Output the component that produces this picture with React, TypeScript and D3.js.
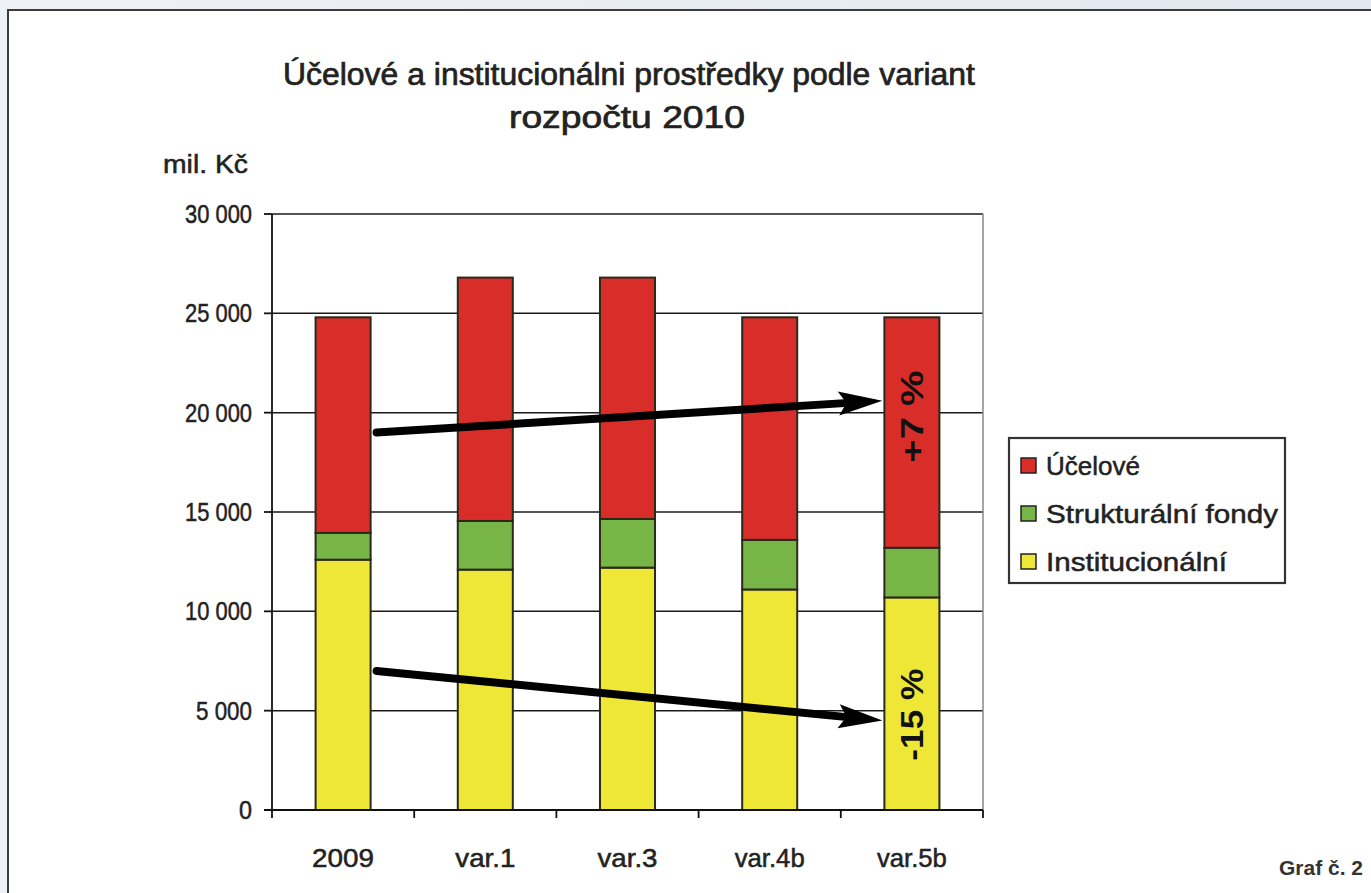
import React from "react";
import * as d3 from "d3";

const categories = ["2009", "var.1", "var.3", "var.4b", "var.5b"];
const institucionalni = [12600, 12100, 12200, 11100, 10700];
const strukturalni = [1350, 2450, 2450, 2500, 2500];
const ucelove = [10850, 12250, 12150, 11200, 11600];
const seriesNames = ["Institucionální", "Strukturální fondy", "Účelové"];
const seriesColors = ["#efe735", "#77b547", "#d92d29"];
const yTicks = [0, 5000, 10000, 15000, 20000, 25000, 30000];
const yTickLabels = ["0", "5 000", "10 000", "15 000", "20 000", "25 000", "30 000"];
const titleLines = ["Účelové a institucionálni prostředky podle variant", "rozpočtu 2010"];
const arrowUp = { from: [0, 19000], to: [4, 20600], label: "+7 %", labelAt: 19800 };
const arrowDown = { from: [0, 7000], to: [4, 4500], label: "-15 %", labelAt: 4800 };

const W = 1371;
const H = 893;
const FONT = "'Liberation Sans', Arial, sans-serif";

export default function App() {
  const x = d3
    .scaleBand<string>()
    .domain(categories)
    .range([272, 983])
    .paddingInner(0.613)
    .paddingOuter(0.3065);
  const y = d3.scaleLinear().domain([0, 30000]).range([810, 214]);

  const rows = categories.map((c, i) => ({
    cat: c,
    Institucionální: institucionalni[i],
    "Strukturální fondy": strukturalni[i],
    Účelové: ucelove[i],
  }));
  const stacked = d3.stack<any>().keys(seriesNames)(rows);

  const step = x.step();
  const bw = x.bandwidth();
  const legendOrder = [2, 1, 0];

  const arrow = (a: typeof arrowUp, key: string) => {
    const x0 = (x(categories[a.from[0]]) as number) + bw + 6;
    const x1 = (x(categories[a.to[0]]) as number) - 2;
    const y0 = y(a.from[1]);
    const y1 = y(a.to[1]);
    const ang = Math.atan2(y1 - y0, x1 - x0);
    const headLen = 44;
    const headW = 12;
    const bx = x1 - headLen * Math.cos(ang);
    const by = y1 - headLen * Math.sin(ang);
    const px = -Math.sin(ang) * headW;
    const py = Math.cos(ang) * headW;
    return (
      <g key={key}>
        <line x1={x0} y1={y0} x2={bx + 6 * Math.cos(ang)} y2={by + 6 * Math.sin(ang)} stroke="#000" strokeWidth={8} strokeLinecap="round" />
        <path d={`M${x1},${y1} L${bx + px},${by + py} L${bx + 8 * Math.cos(ang)},${by + 8 * Math.sin(ang)} L${bx - px},${by - py} Z`} fill="#000" />
      </g>
    );
  };

  const lastX = (x(categories[4]) as number) + bw / 2;
  const txt = { fill: "#222", stroke: "#222", strokeWidth: 0.5 };

  return (
    <svg
      width={W}
      height={H}
      style={{ position: "absolute", left: 0, top: 0, display: "block" }}
      fontFamily={FONT}
    >
      <defs>
        <linearGradient id="bg" x1="0" y1="0" x2="1" y2="0">
          <stop offset="0" stopColor="#eef1f6" />
          <stop offset="1" stopColor="#e3e8f0" />
        </linearGradient>
      </defs>
      <rect x={0} y={0} width={W} height={H} fill="url(#bg)" />
      <rect x={8} y={10} width={1400} height={1000} fill="#fff" stroke="#3c3c3c" strokeWidth={2} />

      {/* title */}
      <text x={629} y={85} textAnchor="middle" fontSize={31} {...txt} strokeWidth={0.7} textLength={692} lengthAdjust="spacingAndGlyphs">
        {titleLines[0]}
      </text>
      <text x={627} y={128} textAnchor="middle" fontSize={31} {...txt} strokeWidth={0.7} textLength={236} lengthAdjust="spacingAndGlyphs">
        {titleLines[1]}
      </text>

      <text x={163} y={173} fontSize={25} {...txt} textLength={85} lengthAdjust="spacingAndGlyphs">
        mil. Kč
      </text>

      {/* gridlines */}
      {yTicks.slice(1).map((t) => (
        <line key={"g" + t} x1={272} x2={983} y1={y(t)} y2={y(t)} stroke="#1a1a1a" strokeWidth={1.5} />
      ))}
      {/* plot right border */}
      <line x1={983} x2={983} y1={y(30000)} y2={y(0)} stroke="#888" strokeWidth={1.5} />

      {/* bars */}
      {stacked.map((s, si) => (
        <g key={s.key}>
          {s.map((d, i) => (
            <rect
              key={i}
              x={x(categories[i])}
              y={y(d[1])}
              width={bw}
              height={y(d[0]) - y(d[1])}
              fill={seriesColors[si]}
              stroke="#2a2a1a"
              strokeWidth={2}
            />
          ))}
        </g>
      ))}

      {/* axes */}
      <line x1={272} x2={272} y1={y(30000)} y2={y(0)} stroke="#111" strokeWidth={1.8} />
      <line x1={264} x2={983} y1={y(0)} y2={y(0)} stroke="#111" strokeWidth={1.8} />
      {yTicks.map((t, i) => (
        <g key={"yt" + t}>
          <line x1={264} x2={272} y1={y(t)} y2={y(t)} stroke="#111" strokeWidth={1.8} />
          <text
            x={252}
            y={y(t) + 9}
            textAnchor="end"
            fontSize={26}
            {...txt}
            textLength={yTickLabels[i].length === 1 ? 13 : yTickLabels[i].length === 5 ? 56 : 67}
            lengthAdjust="spacingAndGlyphs"
          >
            {yTickLabels[i]}
          </text>
        </g>
      ))}
      {d3.range(categories.length + 1).map((k) => (
        <line key={"xt" + k} x1={272 + k * step} x2={272 + k * step} y1={y(0)} y2={y(0) + 8} stroke="#111" strokeWidth={1.8} />
      ))}
      {categories.map((c) => (
        <text
          key={"xl" + c}
          x={(x(c) as number) + bw / 2}
          y={867}
          textAnchor="middle"
          fontSize={25}
          {...txt}
          textLength={c.length === 4 ? 62 : c.length === 5 ? 60 : 70}
          lengthAdjust="spacingAndGlyphs"
        >
          {c}
        </text>
      ))}

      {/* arrows */}
      {arrow(arrowUp, "up")}
      {arrow(arrowDown, "down")}

      {/* rotated percentage labels */}
      <text
        transform={`translate(${lastX + 11},${y(arrowUp.labelAt)}) rotate(-90)`}
        textAnchor="middle"
        fontSize={31}
        fontWeight="bold"
        fill="#111"
        textLength={92}
        lengthAdjust="spacingAndGlyphs"
      >
        {arrowUp.label}
      </text>
      <text
        transform={`translate(${lastX + 11},${y(arrowDown.labelAt)}) rotate(-90)`}
        textAnchor="middle"
        fontSize={31}
        fontWeight="bold"
        fill="#111"
        textLength={92}
        lengthAdjust="spacingAndGlyphs"
      >
        {arrowDown.label}
      </text>

      {/* legend */}
      <rect x={1009} y={438} width={276} height={145} fill="#fff" stroke="#333" strokeWidth={2.2} />
      {legendOrder.map((si, k) => (
        <g key={"lg" + si}>
          <rect x={1021} y={458 + k * 48} width={15} height={15} fill={seriesColors[si]} stroke="#222" strokeWidth={1.5} />
          <text
            x={1046}
            y={475 + k * 48}
            fontSize={26}
            {...txt}
            textLength={si === 2 ? 94 : si === 1 ? 232 : 181}
            lengthAdjust="spacingAndGlyphs"
          >
            {seriesNames[si]}
          </text>
        </g>
      ))}

      <text x={1363} y={875} textAnchor="end" fontSize={21} fontWeight="bold" fill="#333" fontFamily="'Liberation Sans', Helvetica, Arial, sans-serif">
        Graf č. 2
      </text>
    </svg>
  );
}
